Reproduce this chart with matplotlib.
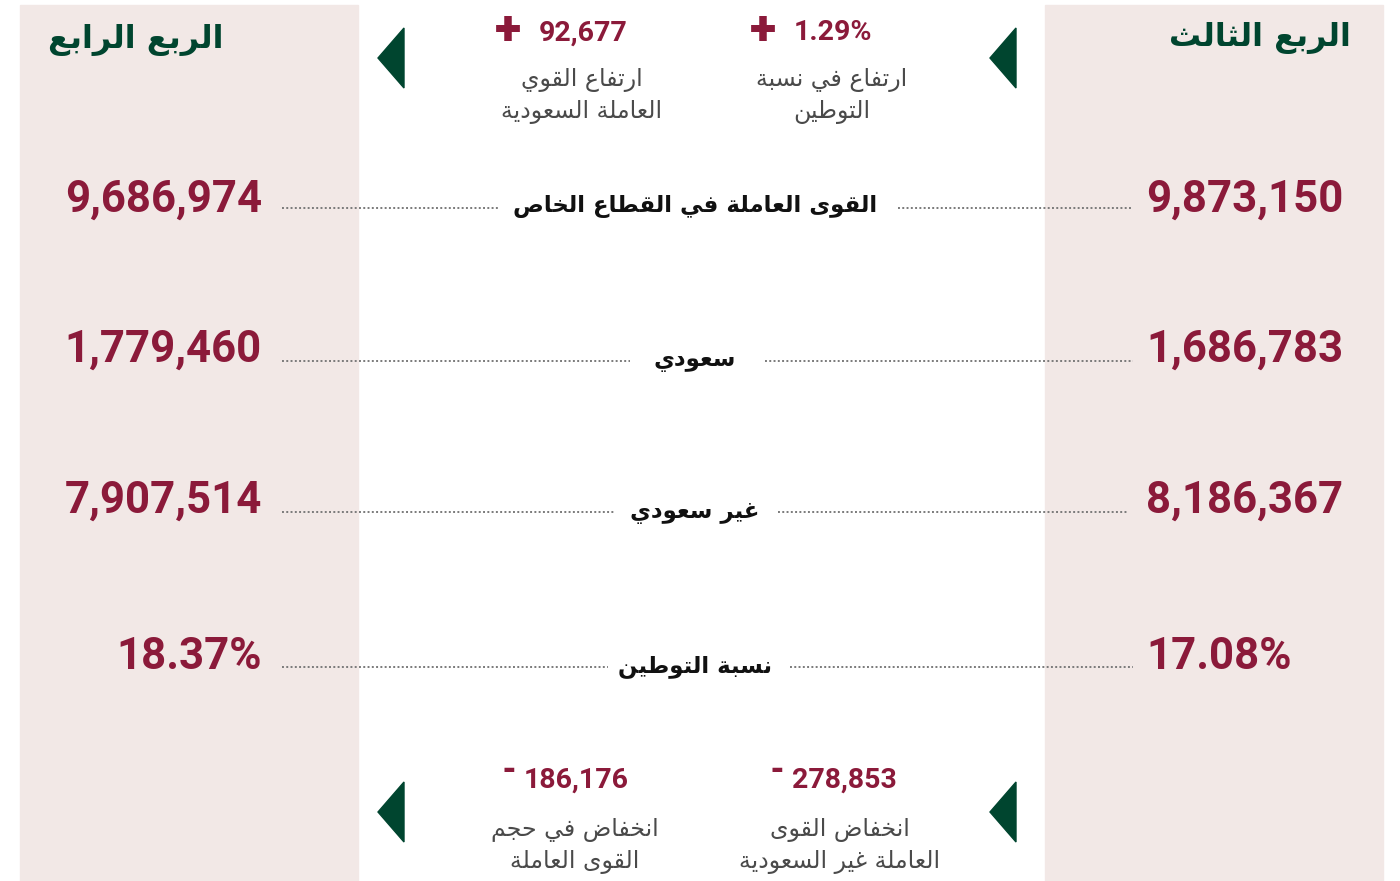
import matplotlib
matplotlib.use("Agg")
import matplotlib.pyplot as plt
from matplotlib.patches import Rectangle, Polygon

# ---------------- data ----------------
quarters = ["الربع الرابع", "الربع الثالث"]
categories = ["القوى العاملة في القطاع الخاص", "سعودي", "غير سعودي", "نسبة التوطين"]
q4_values = ["9,686,974", "1,779,460", "7,907,514", "18.37%"]
q3_values = ["9,873,150", "1,686,783", "8,186,367", "17.08%"]
top_changes = ["92,677", "1.29%"]
top_signs = ["+", "+"]
top_labels = [["ارتفاع القوي", "العاملة السعودية"], ["ارتفاع في نسبة", "التوطين"]]
bottom_changes = ["186,176", "278,853"]
bottom_signs = ["-", "-"]
bottom_labels = [["انخفاض في حجم", "القوى العاملة"], ["انخفاض القوى", "العاملة غير السعودية"]]

# ---------------- minimal Arabic shaping (presentation forms, visual order) ----------------
_FORMS = {
    'ا': (0xFE8D, 2), 'ب': (0xFE8F, 4), 'ة': (0xFE93, 2), 'ت': (0xFE95, 4), 'ث': (0xFE99, 4),
    'ج': (0xFE9D, 4), 'ح': (0xFEA1, 4), 'خ': (0xFEA5, 4), 'د': (0xFEA9, 2), 'ذ': (0xFEAB, 2),
    'ر': (0xFEAD, 2), 'ز': (0xFEAF, 2), 'س': (0xFEB1, 4), 'ش': (0xFEB5, 4), 'ص': (0xFEB9, 4),
    'ض': (0xFEBD, 4), 'ط': (0xFEC1, 4), 'ظ': (0xFEC5, 4), 'ع': (0xFEC9, 4), 'غ': (0xFECD, 4),
    'ف': (0xFED1, 4), 'ق': (0xFED5, 4), 'ك': (0xFED9, 4), 'ل': (0xFEDD, 4), 'م': (0xFEE1, 4),
    'ن': (0xFEE5, 4), 'ه': (0xFEE9, 4), 'و': (0xFEED, 2), 'ى': (0xFEEF, 2), 'ي': (0xFEF1, 4),
}


def shape(text):
    chars = list(text)
    n = len(chars)
    i = 0
    tokens = []
    while i < n:
        if chars[i] == 'ل' and i + 1 < n and chars[i + 1] == 'ا':
            tokens.append('LA')
            i += 2
        else:
            tokens.append(chars[i])
            i += 1

    def joins_next(t):
        if t == 'LA':
            return False
        return t in _FORMS and _FORMS[t][1] == 4

    def is_letter(t):
        return t == 'LA' or t in _FORMS

    out = []
    for k, t in enumerate(tokens):
        prev = tokens[k - 1] if k > 0 else None
        nxt = tokens[k + 1] if k + 1 < len(tokens) else None
        jp = prev is not None and joins_next(prev)
        jn = nxt is not None and is_letter(nxt) and joins_next(t)
        if t == 'LA':
            out.append(chr(0xFEFC if jp else 0xFEFB))
        elif t in _FORMS:
            base, cnt = _FORMS[t]
            if jp and jn:
                out.append(chr(base + 3))
            elif jp:
                out.append(chr(base + 1))
            elif jn:
                out.append(chr(base + 2))
            else:
                out.append(chr(base))
        else:
            out.append(t)
    return ''.join(reversed(out))


# ---------------- style ----------------
PANEL = "#f2e8e6"
CRIMSON = "#8b1a3a"
GREEN = "#00452f"
GRAY_TXT = "#4a4a4a"
DOT = "#7a7a7a"
NUM_FONT = ["Roboto", "DejaVu Sans"]
AR_FONT = ["DejaVu Sans"]

fig = plt.figure(figsize=(14, 8.81), dpi=100)
ax = fig.add_axes([0, 0, 1, 1])
ax.set_xlim(0, 1400)
ax.set_ylim(881, 0)
ax.axis("off")

# background panels
ax.add_patch(Rectangle((20, 5), 338, 876, color=PANEL, zorder=0))
ax.add_patch(Rectangle((1045, 5), 338, 876, color=PANEL, zorder=0))

# quarter headers
ax.text(136, 40, shape(quarters[0]), ha="center", va="center", fontsize=23, fontweight="bold",
        color=GREEN, family=AR_FONT)
ax.text(1260, 38, shape(quarters[1]), ha="center", va="center", fontsize=23, fontweight="bold",
        color=GREEN, family=AR_FONT)

# triangles
for (x0, y0) in [(378, 58), (990, 58), (378, 812), (990, 812)]:
    ax.add_patch(Polygon([(x0, y0), (x0 + 26, y0 - 30), (x0 + 26, y0 + 30)], closed=True,
                         color=GREEN, zorder=2))

# rows
row_y = [200, 350, 501, 657]
label_y = [206, 360, 513, 666]
dot_y = [208, 361, 512, 667]
dots_left = [(282, 500), (282, 630), (282, 615), (282, 608)]
dots_right = [(898, 1133), (765, 1133), (778, 1127), (790, 1133)]
for i, cat in enumerate(categories):
    ax.text(262, row_y[i], q4_values[i], ha="right", va="center", fontsize=31.5, fontweight="bold",
            color=CRIMSON, family=NUM_FONT)
    ax.text(1146, row_y[i], q3_values[i], ha="left", va="center", fontsize=31.5, fontweight="bold",
            color=CRIMSON, family=NUM_FONT)
    ax.text(695, label_y[i], shape(cat), ha="center", va="center", fontsize=16.5, fontweight="bold",
            color="#111111", family=AR_FONT)
    ax.plot(dots_left[i], [dot_y[i], dot_y[i]], color=DOT, lw=1.4, ls=(0, (1, 1.2)),
            solid_capstyle="butt")
    ax.plot(dots_right[i], [dot_y[i], dot_y[i]], color=DOT, lw=1.4, ls=(0, (1, 1.2)),
            solid_capstyle="butt")

# top changes
top_x = [(495, 582), (750, 832)]
for i in range(2):
    sx, cx = top_x[i]
    ax.text(sx, 31, top_signs[i], ha="left", va="center", fontsize=35, fontweight="heavy",
            color=CRIMSON, family=NUM_FONT)
    ax.text(sx + 44, 33, top_changes[i], ha="left", va="center", fontsize=20.5, fontweight="bold",
            color=CRIMSON, family=NUM_FONT)
    ax.text(cx, 80, shape(top_labels[i][0]), ha="center", va="center", fontsize=17,
            color=GRAY_TXT, family=AR_FONT)
    ax.text(cx, 112, shape(top_labels[i][1]), ha="center", va="center", fontsize=17,
            color=GRAY_TXT, family=AR_FONT)

# bottom changes
bot_x = [(500, 575), (768, 840)]
for i in range(2):
    sx, cx = bot_x[i]
    ax.text(sx + 1, 771, bottom_signs[i], ha="left", va="center", fontsize=24, fontweight="heavy",
            color=CRIMSON, family=NUM_FONT)
    ax.text(sx + 24, 780, bottom_changes[i], ha="left", va="center", fontsize=20.5, fontweight="bold",
            color=CRIMSON, family=NUM_FONT)
    ax.text(cx, 830, shape(bottom_labels[i][0]), ha="center", va="center", fontsize=17,
            color=GRAY_TXT, family=AR_FONT)
    ax.text(cx, 862, shape(bottom_labels[i][1]), ha="center", va="center", fontsize=17,
            color=GRAY_TXT, family=AR_FONT)

fig.savefig("out.png", dpi=100, facecolor="white")
